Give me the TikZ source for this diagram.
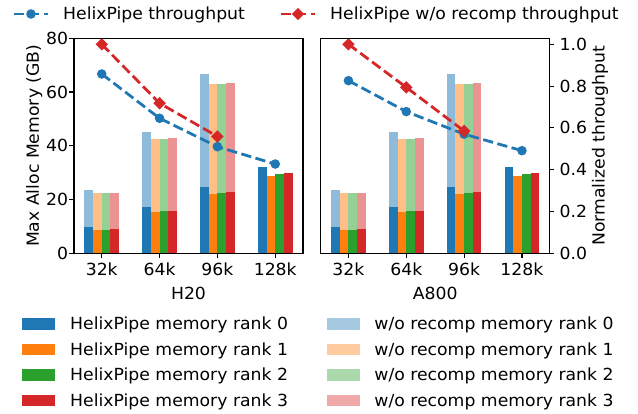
\documentclass[tikz,border=0pt]{standalone}
\usepackage{fontspec}
\setmainfont[FakeStretch=1.035]{DejaVu Sans}
\usetikzlibrary{shapes.geometric}

\definecolor{tabblue}{HTML}{1F77B4}
\definecolor{taborange}{HTML}{FF7F0E}
\definecolor{tabgreen}{HTML}{2CA02C}
\definecolor{tabred}{HTML}{D62728}
% half-transparent variants used by the "w/o recomp" bars
\colorlet{lblue}{tabblue!50!white}
\colorlet{lorange}{taborange!50!white}
\colorlet{lgreen}{tabgreen!50!white}
\colorlet{lred}{tabred!50!white}
% legend patches for the same series
\colorlet{pblue}{tabblue!40!white}
\colorlet{porange}{taborange!40!white}
\colorlet{pgreen}{tabgreen!40!white}
\colorlet{pred}{tabred!40!white}

\tikzset{
  txt/.style={font=\fontsize{16.67}{20}\selectfont, inner sep=0pt, text=black},
  frame/.style={line width=1.11pt, draw=black},
  tick/.style={line width=1.11pt, draw=black},
  thrline/.style={line width=2.78pt, dash pattern=on 10.3pt off 4.45pt},
  bdot/.style={circle, fill=tabblue, inner sep=0pt, minimum size=9.6pt},
  rdia/.style={diamond, fill=tabred, inner sep=0pt, minimum width=12.6pt, minimum height=12.6pt},
  patch/.style={minimum width=33.3pt, minimum height=11.7pt, inner sep=0pt},
}

% one panel: #1 = left edge of the frame, #2 = prefix for names, #3 = x label,
% #4 = HelixPipe throughput (4 values), #5 = w/o recomp throughput (3 values)
\newcommand{\mempanel}[5]{%
  \begin{scope}[shift={(#1+27.76,160.7)}]
    % w/o recomp memory (light bars)
    \foreach \xx/\vv/\cc in {
        -0.225/23.6/lblue, -0.075/22.6/lorange, 0.075/22.6/lgreen, 0.225/22.6/lred,
         0.775/45.1/lblue,  0.925/42.5/lorange, 1.075/42.5/lgreen, 1.225/42.9/lred,
         1.775/66.7/lblue,  1.925/62.9/lorange, 2.075/62.9/lgreen, 2.225/63.4/lred}
      \fill[\cc] ({(\xx-0.075)*57.83},0) rectangle ({(\xx+0.075)*57.83},{\vv*2.6875});
    % HelixPipe memory (solid bars)
    \foreach \xx/\vv/\cc in {
        -0.225/9.9/tabblue, -0.075/8.7/taborange, 0.075/8.7/tabgreen, 0.225/9.0/tabred,
         0.775/17.3/tabblue, 0.925/15.4/taborange, 1.075/15.7/tabgreen, 1.225/15.7/tabred,
         1.775/24.7/tabblue, 1.925/22.2/taborange, 2.075/22.4/tabgreen, 2.225/22.8/tabred,
         2.775/32.1/tabblue, 2.925/28.8/taborange, 3.075/29.5/tabgreen, 3.225/29.9/tabred}
      \fill[\cc] ({(\xx-0.075)*57.83},0) rectangle ({(\xx+0.075)*57.83},{\vv*2.6875});
    % throughput points
    \foreach \tv [count=\i from 0] in {#4}
      \coordinate (#2b\i) at ({\i*57.83},{\tv*209});
    \foreach \tv [count=\i from 0] in {#5}
      \coordinate (#2r\i) at ({\i*57.83},{\tv*209});
    \draw[thrline, tabblue] (#2b0) -- (#2b1) -- (#2b2) -- (#2b3);
    \foreach \i in {0,1,2,3} \node[bdot] (#2bm\i) at (#2b\i) {};
    \draw[thrline, tabred] (#2r0) -- (#2r1) -- (#2r2);
    \foreach \i in {0,1,2} \node[rdia] (#2rm\i) at (#2r\i) {};
    % x ticks and labels
    \foreach \lab [count=\i from 0] in {32k,64k,96k,128k} {
      \draw[tick] ({\i*57.83},0) -- ({\i*57.83},-4.86);
      \node[txt, anchor=base] (#2x\i) at ({\i*57.83},-22.6) {\lab};
    }
  \end{scope}
  \draw[frame] (#1,160.7) rectangle (#1+229,375.7);
  \node[txt, anchor=base] (#2xl) at (#1+114.5,114.7) {#3};
}

\begin{document}
\begin{tikzpicture}[x=1pt, y=1pt]
  \useasboundingbox (0,0) rectangle (638,414);

  \mempanel{74}{h}{H20}{0.858,0.646,0.510,0.427}{1.0,0.718,0.559}
  \mempanel{320.7}{a}{A800}{0.826,0.678,0.570,0.491}{1.0,0.794,0.585}

  % left memory axis
  \foreach \v in {0,20,40,60,80} {
    \draw[tick] (74,{160.7+\v*2.6875}) -- (69.14,{160.7+\v*2.6875});
    \node[txt, anchor=base east] (my\v) at (68.3,{160.7+\v*2.6875-6.1}) {\v};
  }
  \node[txt, anchor=base, rotate=90] (ylab) at (38.8,268.2) {Max Alloc Memory (GB)};

  % right throughput axis
  \foreach \t in {0.0,0.2,0.4,0.6,0.8,1.0} {
    \draw[tick] (549.3,{160.7+\t*209}) -- (554.16,{160.7+\t*209});
    \node[txt, anchor=base west] at (559.5,{160.7+\t*209-6.1}) {\t};
  }
  \node[txt, anchor=base, rotate=90] (y2lab) at (604.5,268.2) {Normalized throughput};

  % legend for the throughput lines
  \coordinate (lb1) at (14,400);  \coordinate (lb2) at (48,400);
  \draw[thrline, tabblue] (lb1) -- (lb2);
  \node[bdot] (lbm) at (31,400) {};
  \node[txt, anchor=base west] (lbt) at (63,394.7) {HelixPipe throughput};
  \coordinate (lr1) at (281,400); \coordinate (lr2) at (315,400);
  \draw[thrline, tabred] (lr1) -- (lr2);
  \node[rdia] (lrm) at (298,400) {};
  \node[txt, anchor=base west] (lrt) at (330,394.7) {HelixPipe w/o recomp throughput};

  % legend for the memory bars
  \foreach \r/\cd/\cl [count=\i from 0] in {0/tabblue/pblue, 1/taborange/porange, 2/tabgreen/pgreen, 3/tabred/pred} {
    \pgfmathsetmacro{\yb}{84-25.5*\i}
    \node[patch, fill=\cd] (pd\i) at (38.4,\yb+6.1) {};
    \node[txt, anchor=base west] (td\i) at (70,\yb) {HelixPipe memory rank \r};
    \node[patch, fill=\cl] (pl\i) at (343.2,\yb+6.1) {};
    \node[txt, anchor=base west] (tl\i) at (374.2,\yb) {w/o recomp memory rank \r};
  }
\end{tikzpicture}
\end{document}
